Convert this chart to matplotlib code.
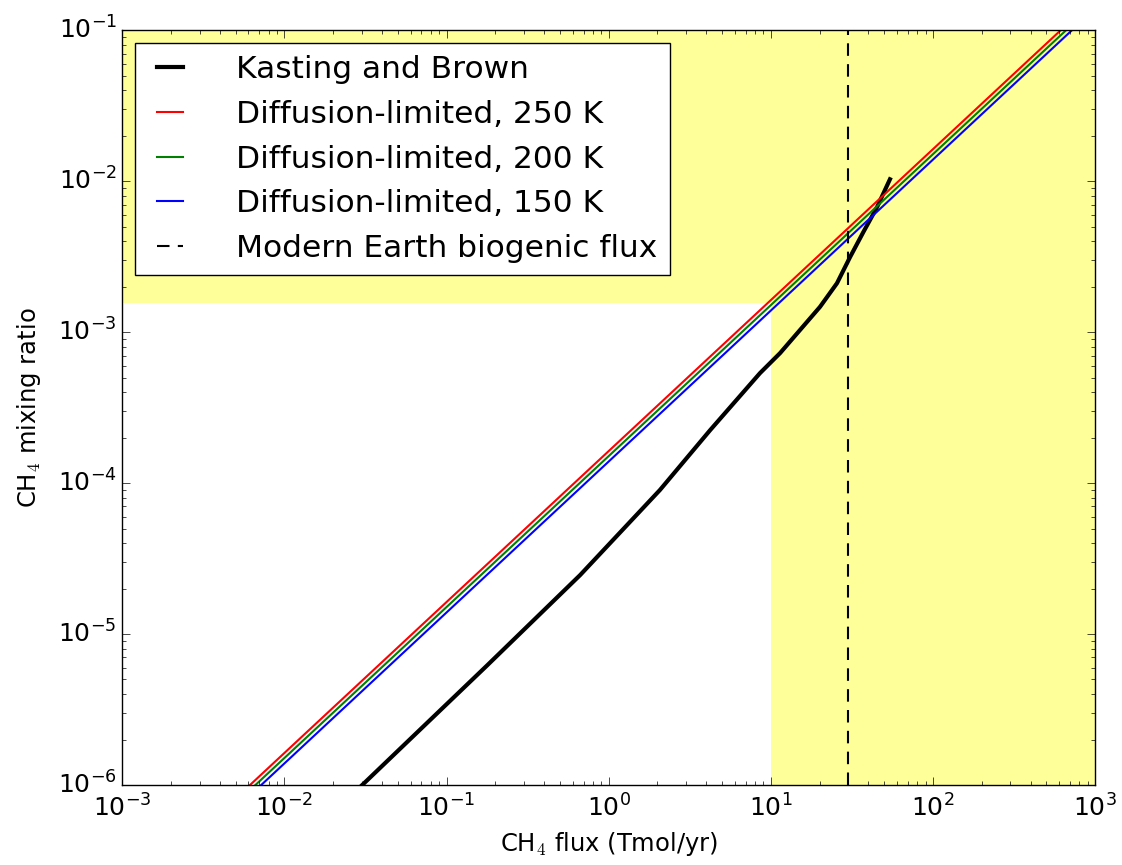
import numpy as np
import matplotlib
matplotlib.use("Agg")
from matplotlib import pyplot as plt

plt.style.use("classic")
plt.rcParams["axes.unicode_minus"] = False

# Kasting and Brown curve
kb_flux = [0.0302, 0.178, 0.667, 2.07, 4.22, 8.57, 11.4, 15.1, 20.1, 25.6,
           30.8, 37.2, 45.2, 54.3]
kb_mix = [1.0e-6, 6.2e-6, 2.46e-5, 9.0e-5, 2.24e-4, 5.35e-4, 7.26e-4, 1.03e-3,
          1.47e-3, 2.11e-3, 3.14e-3, 4.6e-3, 6.73e-3, 1.03e-2]

# diffusion-limited lines, end points at the x limits
diff_flux = [1e-3, 1e3]
diff_250 = [1.63e-7, 1.63e-1]
diff_200 = [1.51e-7, 1.51e-1]
diff_150 = [1.39e-7, 1.39e-1]

modern_flux = 30.0
flux_limit = 10.0
mix_limit = 1.56e-3

fig = plt.figure(figsize=(11.22, 8.65), dpi=100)
ax = fig.add_axes([0.109, 0.0925, 0.867, 0.8725])

shade = dict(color="yellow", alpha=0.4, lw=0)
ax.axvspan(flux_limit, 1e3, **shade)
# upper band only left of the vertical band, so the two don't stack
ax.axhspan(mix_limit, 1e-1, xmin=0, xmax=4 / 6, **shade)

ax.plot(kb_flux, kb_mix, "k-", lw=3, label="Kasting and Brown")
ax.plot(diff_flux, diff_250, "r-", lw=1.5, label="Diffusion-limited, 250 K")
ax.plot(diff_flux, diff_200, "g-", lw=1.5, label="Diffusion-limited, 200 K")
ax.plot(diff_flux, diff_150, "b-", lw=1.5, label="Diffusion-limited, 150 K")
ax.axvline(modern_flux, color="k", ls="--", dashes=(9, 6), lw=1.5,
           label="Modern Earth biogenic flux")

ax.set_xscale("log")
ax.set_yscale("log")
ax.set_xlim(1e-3, 1e3)
ax.set_ylim(1e-6, 1e-1)
ax.tick_params(labelsize=18)
ax.tick_params(axis="x", pad=7)
ax.tick_params(which="major", length=6)
ax.tick_params(which="minor", length=3)
ax.set_xlabel(r"CH$_4$ flux (Tmol/yr)", fontsize=17.5, labelpad=6)
ax.set_ylabel(r"CH$_4$ mixing ratio", fontsize=17.5, labelpad=11)

ax.legend(loc="upper left", fontsize=22.5, handlelength=1.45,
          handletextpad=1.4, borderaxespad=0.4)

fig.savefig("out.png", dpi=100)
